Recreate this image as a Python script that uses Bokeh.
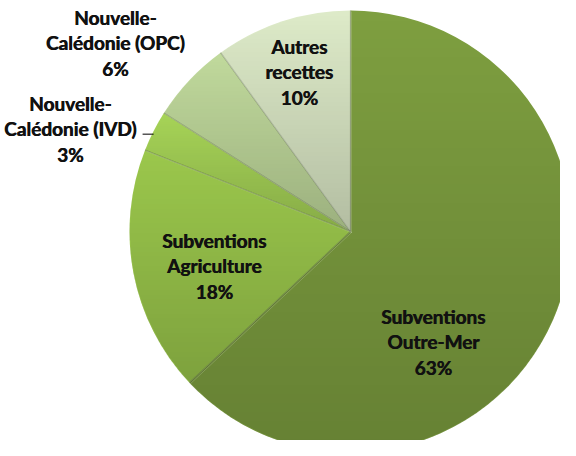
import numpy as np
from bokeh.plotting import figure
from bokeh.models import Range1d
from bokeh.core.properties import value
from bokeh.embed import file_html
from bokeh.resources import INLINE

# ---- data ----
labels = ["Subventions\nOutre-Mer", "Subventions\nAgriculture", "Nouvelle-\nCalédonie (IVD)",
          "Nouvelle-\nCalédonie (OPC)", "Autres\nrecettes"]
values = [63, 18, 3, 6, 10]
colors = ["#7E9F40", "#9BC74C", "#A6D357", "#C0D99C", "#DDEAC8"]

# ---- layout (pixel-like data coords, y up) ----
W, H = 560, 440
cx, cy, R = 350, 209, 221
# label block centres relative to pie centre (dx, dy)
label_off = [(83, -110), (-136, -34), (-280, 103), (-235, 189), (-51, 160)]
LINE = 25.5
FONT = "19px"
SHADE = 0.19

p = figure(width=W, height=H, output_backend="svg", toolbar_location=None,
           x_range=Range1d(0, W), y_range=Range1d(0, H), min_border=0)
p.axis.visible = False
p.grid.visible = False
p.outline_line_color = None
p.background_fill_color = "white"

total = float(sum(values))
fr = np.cumsum([0] + values) / total
starts = np.pi / 2 - 2 * np.pi * fr[:-1]
ends = np.pi / 2 - 2 * np.pi * fr[1:]

p.wedge(x=cx, y=cy, radius=R, start_angle=list(starts), end_angle=list(ends),
        direction="clock", fill_color=colors, line_color=None)

# per-slice vertical shading overlay (darker toward the bottom of each slice)
N = 2 * R
yy, xx = np.mgrid[0:N, 0:N]
px = xx + 0.5 - R
py = yy + 0.5 - R
mask = (px ** 2 + py ** 2) <= (R - 0.3) ** 2
f = np.mod(np.pi / 2 - np.arctan2(py, px), 2 * np.pi) / (2 * np.pi)
idx = np.clip(np.searchsorted(fr[1:], f, side="right"), 0, len(values) - 1)
alpha = np.zeros((N, N))
for k in range(len(values)):
    sel = mask & (idx == k)
    if not sel.any():
        continue
    ytop, ybot = py[sel].max(), py[sel].min()
    alpha[sel] = SHADE * (ytop - py[sel]) / max(ytop - ybot, 1)
img = np.zeros((N, N), dtype=np.uint32)
view = img.view(dtype=np.uint8).reshape((N, N, 4))
view[..., 3] = (alpha * 255).astype(np.uint8)
p.image_rgba(image=[img], x=cx - R, y=cy - R, dw=N, dh=N)

# slice separators (radial edges)
bx = [cx + R * np.cos(a) for a in starts]
by = [cy + R * np.sin(a) for a in starts]
p.segment(x0=[cx] * len(bx), y0=[cy] * len(by), x1=bx, y1=by,
          line_color="#3F4D2A", line_alpha=0.35, line_width=1.2)
p.segment(x0=[cx + 1] * len(bx), y0=[cy - 1] * len(by), x1=[b + 1 for b in bx], y1=[b - 1 for b in by],
          line_color="white", line_alpha=0.18, line_width=1.0)

# labels (drawn twice with a tiny offset for a heavier weight)
for lab, v, (dx, dy) in zip(labels, values, label_off):
    lines = lab.split("\n") + [f"{v}%"]
    n = len(lines)
    ys = [cy + dy + ((n - 1) / 2 - i) * LINE for i in range(n)]
    for off in (-0.3, 0.3):
        p.text(x=[cx + dx + off] * n, y=ys, text=lines, text_font=value("Lato"), text_font_style="bold",
               text_font_size=FONT, text_align="center", text_baseline="middle", text_color="#111111")

# leader line for the small IVD slice
mid = (starts[2] + ends[2]) / 2
ex, ey = cx + R * np.cos(mid), cy + R * np.sin(mid)
p.line(x=[ex - 11, ex], y=[ey - 3, ey - 3], line_color="black", line_width=1)

open("out.html", "w").write(file_html(p, INLINE))
